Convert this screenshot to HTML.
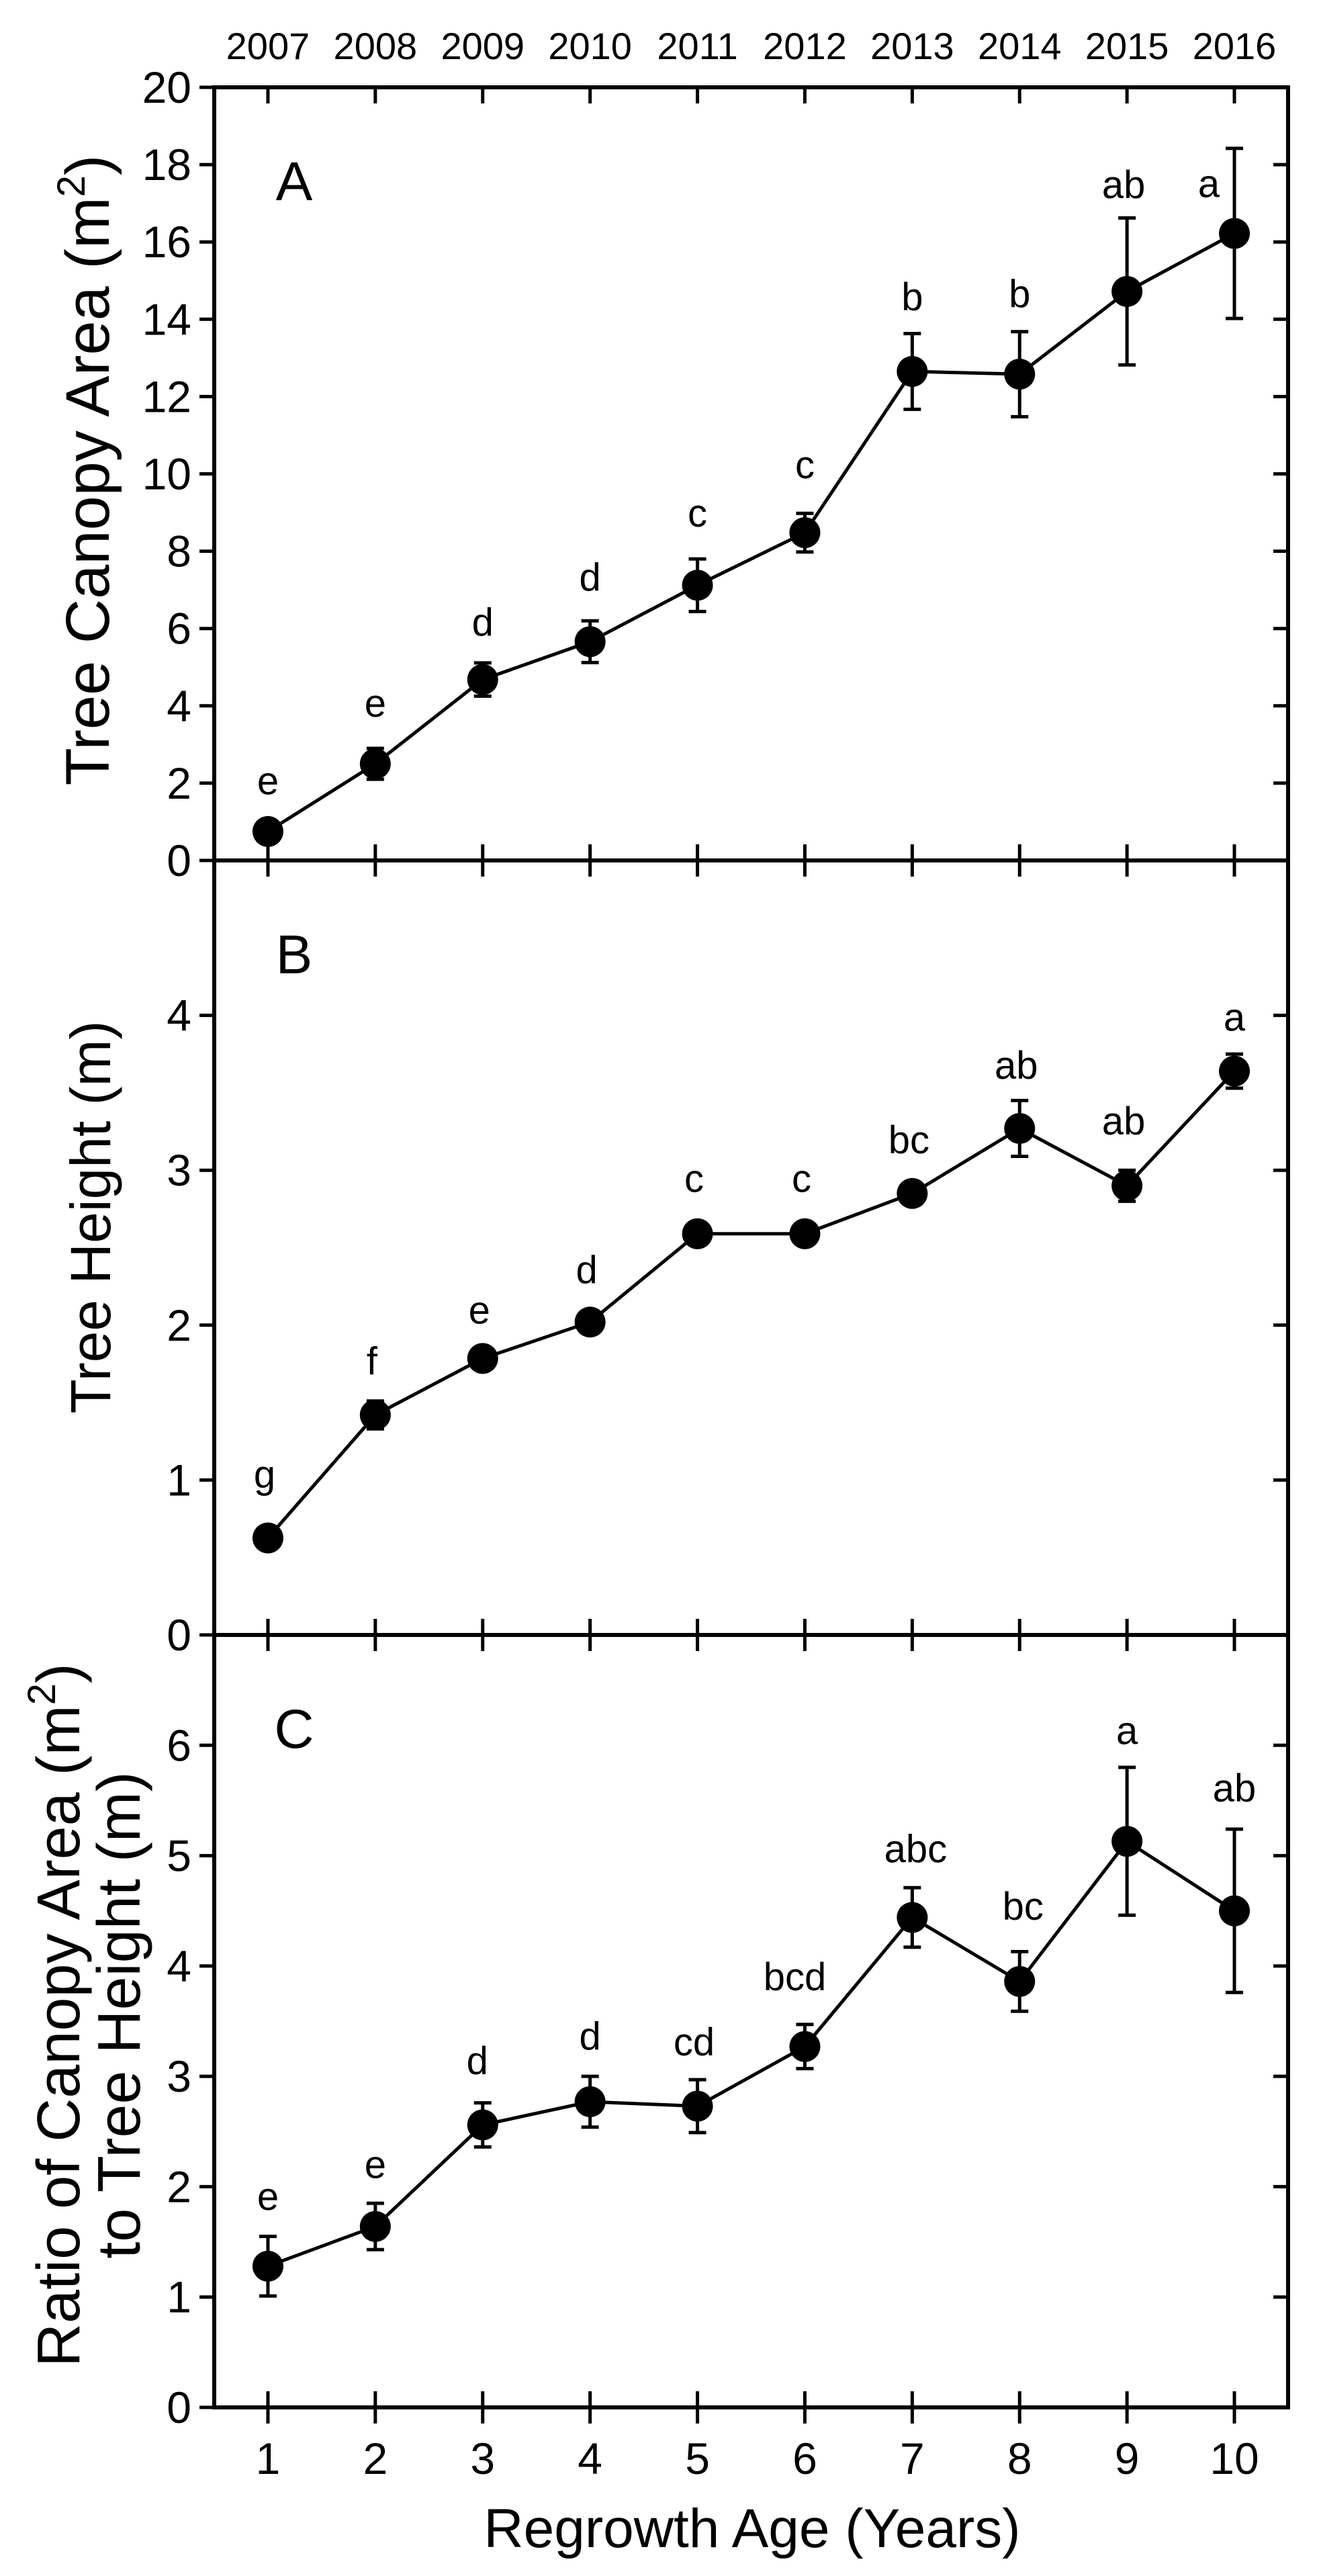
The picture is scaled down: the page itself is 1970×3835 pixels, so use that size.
<!DOCTYPE html>
<html><head><meta charset="utf-8"><style>
html,body{margin:0;padding:0;background:#fff;}
svg{display:block;font-family:"Liberation Sans",Arial,sans-serif;}
</style></head><body>
<svg id="chart" width="1970" height="3835" viewBox="0 0 1970 3835" xmlns="http://www.w3.org/2000/svg">
<text transform="translate(162,700) rotate(-90)" text-anchor="middle" font-size="92">Tree Canopy Area (m<tspan font-size="58" dy="-36">2</tspan><tspan dy="36">)</tspan></text>
<text transform="translate(164,1812) rotate(-90)" text-anchor="middle" font-size="84">Tree Height (m)</text>
<text transform="translate(118,3000) rotate(-90)" text-anchor="middle" font-size="90">Ratio of Canopy Area (m<tspan font-size="58" dy="-36">2</tspan><tspan dy="36">)</tspan></text>
<text transform="translate(208,3000) rotate(-90)" text-anchor="middle" font-size="90">to Tree Height (m)</text>
<text x="1120" y="3792" text-anchor="middle" font-size="82">Regrowth Age (Years)</text>
</svg>
<script>
const ages = [1,2,3,4,5,6,7,8,9,10];
const years = ["2007","2008","2009","2010","2011","2012","2013","2014","2015","2016"];
const canopyVals = [0.75,2.5,4.68,5.66,7.12,8.48,12.65,12.58,14.72,16.22];
const canopyErr = [0.1,0.4,0.43,0.54,0.68,0.5,0.98,1.1,1.9,2.2];
const canopyLetters = ["e","e","d","d","c","c","b","b","ab","a"];
const canopyLabelY = [1.71,3.72,5.81,6.98,8.64,9.89,14.23,14.31,17.13,17.16];
const heightVals = [0.626,1.42,1.785,2.02,2.59,2.59,2.85,3.27,2.9,3.64];
const heightErr = [0.03,0.09,0.03,0.03,0.07,0.07,0.07,0.18,0.1,0.11];
const heightLetters = ["g","f","e","d","c","c","bc","ab","ab","a"];
const heightLabelY = [0.95,1.68,2.01,2.27,2.86,2.86,3.11,3.59,3.23,3.9];
const ratioVals = [1.28,1.64,2.56,2.77,2.73,3.27,4.44,3.86,5.13,4.5];
const ratioErr = [0.27,0.21,0.2,0.23,0.24,0.2,0.27,0.27,0.67,0.74];
const ratioLetters = ["e","e","d","d","cd","bcd","abc","bc","a","ab"];
const ratioLabelY = [1.79,2.08,3.02,3.24,3.19,3.78,4.94,4.42,6.01,5.49];
const canopyTicks = [0,2,4,6,8,10,12,14,16,18,20];
const heightTicks = [0,1,2,3,4];
const ratioTicks = [0,1,2,3,4,5,6];

const NS="http://www.w3.org/2000/svg";
const svg=document.getElementById('chart');
const L=319,R=1918;
function xs(v){return L+(v-0.5)/10*(R-L);}
function mk(tag,attrs,parent){const e=document.createElementNS(NS,tag);for(const k in attrs)e.setAttribute(k,attrs[k]);(parent||svg).appendChild(e);return e;}

function panel(name,top,bot,ymax,ticks,vals,errs,letters,labY,letter,labelXoff){
  const ys=v=>bot-(v/ymax)*(bot-top);
  const g=mk('g',{});
  
  
  const fr=mk('rect',{x:L,y:top,width:R-L,height:bot-top,fill:'none',stroke:'#000','stroke-width':6},g);
  
  
  ticks.forEach(t=>{
    const y=ys(t);
    const tl=mk('line',{x1:L-22,y1:y,x2:L,y2:y,stroke:'#000','stroke-width':5},g);
    
    
    mk('line',{x1:R-22,y1:y,x2:R,y2:y,stroke:'#000','stroke-width':5},g);
    const tx=mk('text',{x:285,y:y+23,'text-anchor':'end','font-size':66},g);
    
    
    tx.textContent=String(t);
  });
  ages.forEach(a=>{
    const x=xs(a);
    mk('line',{x1:x,y1:top,x2:x,y2:top+24,stroke:'#000','stroke-width':5},g);
    mk('line',{x1:x,y1:bot,x2:x,y2:bot-24,stroke:'#000','stroke-width':5},g);
  });
  const pts=ages.map((a,i)=>xs(a)+','+ys(vals[i])).join(' ');
  const pl=mk('polyline',{points:pts,fill:'none',stroke:'#000','stroke-width':5},g);
  
  
  ages.forEach((a,i)=>{
    const x=xs(a),y1=ys(vals[i]+errs[i]),y2=ys(vals[i]-errs[i]);
    const eb=mk('path',{d:`M${x},${y1}V${y2}M${x-13},${y1}H${x+13}M${x-13},${y2}H${x+13}`,stroke:'#000','stroke-width':5,fill:'none'},g);
    
    
    const c=mk('circle',{cx:x,cy:ys(vals[i]),r:23,fill:'#000'},g);
    
    
    const t=mk('text',{x:x+(labelXoff[i]||0),y:ys(labY[i]),'text-anchor':'middle','font-size':58},g);
    
    
    t.textContent=letters[i];
  });
  const pt=mk('text',{x:438,y:top+168,'text-anchor':'middle','font-size':82},g);
  
  
  pt.textContent=letter;
  return g;
}
panel('a',130,1281,20,canopyTicks,canopyVals,canopyErr,canopyLetters,canopyLabelY,'A',[0,0,0,0,0,0,0,0,-5,-38]);
panel('b',1281,2434,5,heightTicks,heightVals,heightErr,heightLetters,heightLabelY,'B',[-5,-5,-5,-5,-5,-5,-5,-5,-5,0]);
panel('c',2434,3584,7,ratioTicks,ratioVals,ratioErr,ratioLetters,ratioLabelY,'C',[0,0,-8,0,-5,-15,5,5,0,0]);
ages.forEach(a=>{mk('line',{x1:xs(a),y1:3584,x2:xs(a),y2:3608,stroke:'#000','stroke-width':5});});
ages.forEach((a,i)=>{
  const t=mk('text',{x:xs(a),y:3683,'text-anchor':'middle','font-size':66});
  
  
  t.textContent=String(a);
  const yt=mk('text',{x:xs(a),y:88,'text-anchor':'middle','font-size':56});
  
  
  yt.textContent=years[i];
});
</script>
</body></html>
